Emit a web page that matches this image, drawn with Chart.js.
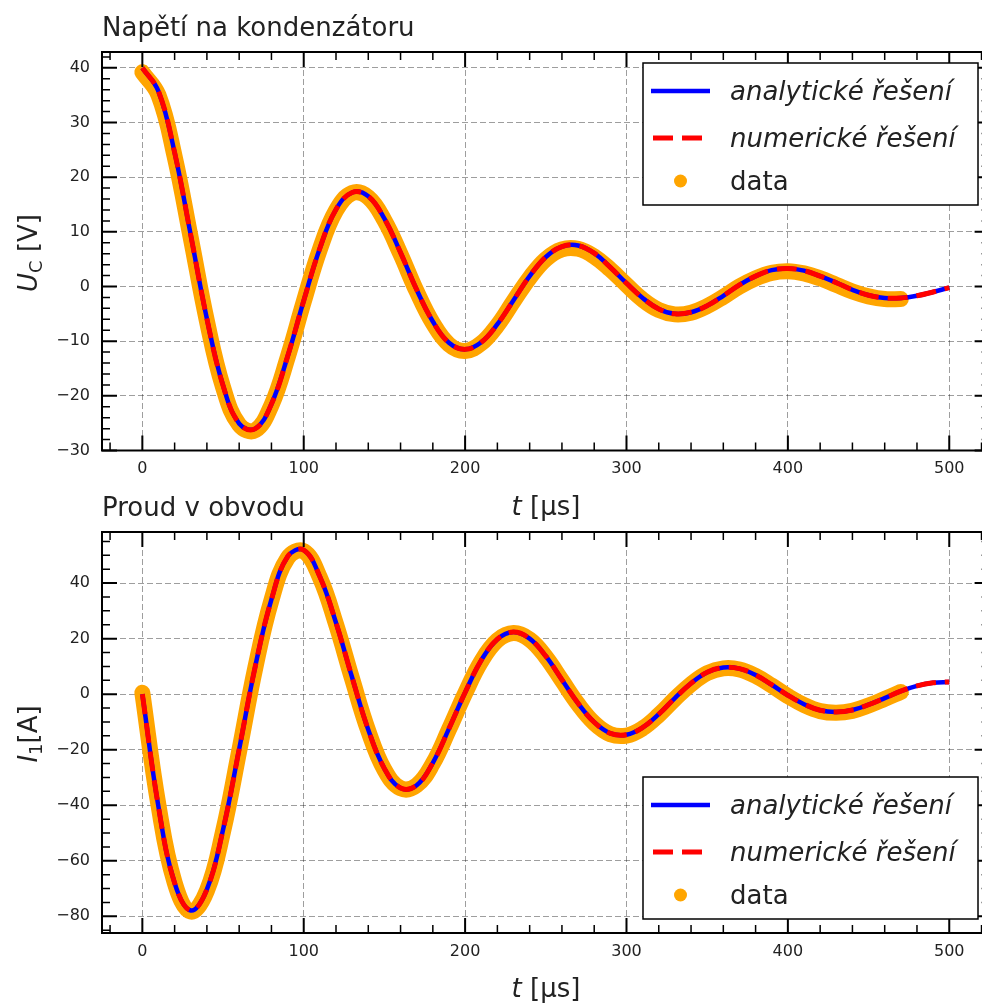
<!DOCTYPE html>
<html><head><meta charset="utf-8">
<script src="https://cdn.jsdelivr.net/npm/chart.js@4.4.1/dist/chart.umd.min.js"></script>
<style>
html,body{margin:0;padding:0;background:#fff;overflow:hidden;width:982px;height:1003px;position:relative;}
#c1{position:absolute;left:0;top:0;}
#c2{position:absolute;left:0;top:480px;}
</style></head><body>
<canvas id="c1" width="992" height="530"></canvas>
<canvas id="c2" width="992" height="523"></canvas>
<script>
// ---- data ----
const tAxis = [0,10,20,30,40,50,60,70,80,90,100,110,120,130,140,150,160,170,180,190,200,210,220,230,240,250,260,270,280,290,300,310,320,330,340,350,360,370,380,390,400,410,420,430,440,450,460,470,480,490,500];
const tData = [0,10,20,30,40,50,60,70,80,90,100,110,120,130,140,150,160,170,180,190,200,210,220,230,240,250,260,270,280,290,300,310,320,330,340,350,360,370,380,390,400,410,420,430,440,450,460,470];

const uAnalytic = [40.0,35.7,24.5,9.4,-5.9,-18.1,-25.1,-26.0,-21.5,-12.8,-2.6,7.0,14.1,17.2,16.5,12.4,6.2,-0.6,-6.4,-10.3,-11.5,-10.2,-6.9,-2.5,1.9,5.4,7.3,7.5,6.1,3.5,0.6,-2.1,-4.1,-5.0,-4.7,-3.5,-1.7,0.3,1.9,3.0,3.3,2.9,1.9,0.7,-0.6,-1.6,-2.1,-2.1,-1.7,-1.0,-0.2];
const uNumeric  = [40.0,35.7,24.5,9.4,-5.9,-18.1,-25.1,-26.0,-21.5,-12.8,-2.6,7.0,14.1,17.2,16.5,12.4,6.2,-0.6,-6.4,-10.3,-11.5,-10.2,-6.9,-2.5,1.9,5.4,7.3,7.5,6.1,3.5,0.6,-2.1,-4.1,-5.0,-4.7,-3.5,-1.7,0.3,1.9,3.0,3.3,2.9,1.9,0.7,-0.6,-1.6,-2.1,-2.1,-1.7,-1.0,-0.2];
const uData     = [39.2,35.0,23.8,8.9,-6.3,-18.4,-25.3,-26.3,-21.7,-13.0,-2.8,6.8,13.9,17.1,16.3,12.1,5.9,-0.9,-6.7,-10.6,-11.8,-10.4,-7.1,-2.7,1.6,5.0,6.8,6.9,5.5,3.1,0.3,-2.4,-4.3,-5.1,-4.8,-3.6,-1.9,0.0,1.5,2.5,2.8,2.4,1.5,0.3,-0.9,-1.8,-2.3,-2.3];

const iAnalytic = [0,-40.6,-68.0,-77.9,-70.3,-48.8,-19.8,10.1,34.1,49.5,51.9,42.3,25.7,6.0,-12.8,-26.8,-33.8,-32.8,-24.7,-12.4,0.6,12.2,19.8,22.4,20.0,13.7,5.2,-3.3,-10.1,-14.1,-14.6,-12.0,-7.2,-1.4,3.9,7.9,9.6,9.2,6.9,3.4,-0.4,-3.6,-5.8,-6.4,-5.7,-3.8,-1.4,1.1,3.0,4.1,4.4];
const iNumeric  = [0,-40.6,-68.0,-77.9,-70.3,-48.8,-19.8,10.1,34.1,49.5,51.9,42.3,25.7,6.0,-12.8,-26.8,-33.8,-32.8,-24.7,-12.4,0.6,12.2,19.8,22.4,20.0,13.7,5.2,-3.3,-10.1,-14.1,-14.6,-12.0,-7.2,-1.4,3.9,7.9,9.6,9.2,6.9,3.4,-0.4,-3.6,-5.8,-6.4,-5.7,-3.8,-1.4,1.1,3.0,4.1,4.4];
const iData     = [0.5,-40.0,-67.8,-78.3,-70.8,-49.5,-20.5,9.5,33.8,49.0,51.5,42.0,25.2,5.5,-13.2,-27.2,-33.9,-32.8,-25.0,-12.7,0.3,11.8,19.4,22.0,19.7,13.4,4.9,-3.6,-10.4,-14.4,-14.9,-12.3,-7.5,-1.7,3.6,7.6,9.3,8.9,6.6,3.1,-0.7,-3.9,-6.1,-6.7,-6.0,-4.1,-1.7,0.8];

const xTicks = [0,100,200,300,400,500];
const uTicks = [-30,-20,-10,0,10,20,30,40];
const iTicks = [-80,-60,-40,-20,0,20,40];

const seriesNames = ['analytické řešení','numerické řešení','data'];

// ---- helpers ----
Chart.defaults.font.family = '"DejaVu Sans", sans-serif';
const TXT = '#222';
function fmt(v){ return v < 0 ? '\u2212' + Math.abs(v) : String(v); }
function pts(xs, ys){ return ys.map((y,i)=>({x:xs[i], y:y})); }

function drawRich(ctx, parts, x, y, rot){
  ctx.save();
  ctx.translate(x, y);
  if (rot) ctx.rotate(rot);
  let total = 0;
  parts.forEach(p => { ctx.font = p.font; p.w = ctx.measureText(p.text).width; total += p.w; });
  let cx = -total/2;
  ctx.textBaseline = 'alphabetic'; ctx.textAlign = 'left'; ctx.fillStyle = TXT;
  parts.forEach(p => { ctx.font = p.font; ctx.fillText(p.text, cx, p.dy); cx += p.w; });
  ctx.restore();
}

const decoPlugin = {
  id: 'deco',
  afterDraw(chart, args, o){
    const ctx = chart.ctx, ca = chart.chartArea;
    const xs = chart.scales.x, ys = chart.scales.y;
    ctx.save();
    ctx.strokeStyle = '#000';
    const ticks = (scale, major, minor, horiz) => {
      for (let k = Math.ceil(scale.min/minor - 1e-9); k*minor <= scale.max + 1e-9; k++){
        const v = k*minor;
        const isMaj = Math.abs(v/major - Math.round(v/major)) < 1e-6;
        const len = isMaj ? 15 : 8;
        ctx.lineWidth = isMaj ? 2 : 1.5;
        const p = scale.getPixelForValue(v);
        ctx.beginPath();
        if (horiz){
          ctx.moveTo(p, ca.bottom); ctx.lineTo(p, ca.bottom - len);
          ctx.moveTo(p, ca.top); ctx.lineTo(p, ca.top + len);
        } else {
          ctx.moveTo(ca.left, p); ctx.lineTo(ca.left + len, p);
          ctx.moveTo(ca.right, p); ctx.lineTo(ca.right - len, p);
        }
        ctx.stroke();
      }
    };
    ticks(xs, o.xMajor, o.xMinor, true);
    ticks(ys, o.yMajor, o.yMinor, false);
    ctx.lineWidth = 2;
    ctx.strokeRect(ca.left, ca.top, ca.right - ca.left, ca.bottom - ca.top);

    // legend
    const L = o.legend;
    ctx.fillStyle = '#fff';
    ctx.fillRect(L.x, L.y, L.w, L.h);
    ctx.lineWidth = 1.5; ctx.strokeStyle = '#000';
    ctx.strokeRect(L.x, L.y, L.w, L.h);
    const ds = chart.data.datasets;
    const rows = [L.y + 28, L.y + 75, L.y + 118];
    ctx.lineCap = 'butt';
    ctx.setLineDash([]);
    ctx.strokeStyle = ds[1].borderColor; ctx.lineWidth = 4.5;
    ctx.beginPath(); ctx.moveTo(L.x + 8, rows[0]); ctx.lineTo(L.x + 67, rows[0]); ctx.stroke();
    ctx.strokeStyle = ds[0].borderColor; ctx.lineWidth = 5;
    ctx.setLineDash(ds[0].borderDash);
    ctx.beginPath(); ctx.moveTo(L.x + 10, rows[1]); ctx.lineTo(L.x + 67, rows[1]); ctx.stroke();
    ctx.setLineDash([]);
    ctx.fillStyle = ds[2].borderColor;
    ctx.beginPath(); ctx.arc(L.x + 37.5, rows[2], 6.5, 0, Math.PI*2); ctx.fill();
    ctx.fillStyle = TXT; ctx.textBaseline = 'alphabetic'; ctx.textAlign = 'left';
    ctx.font = 'oblique 26px "DejaVu Sans"';
    ctx.fillText(ds[1].label, L.x + 87, rows[0] + 9);
    ctx.fillText(ds[0].label, L.x + 87, rows[1] + 9);
    ctx.font = '26px "DejaVu Sans"';
    ctx.fillText(ds[2].label, L.x + 87, rows[2] + 9);

    // title
    ctx.font = '26px "DejaVu Sans"';
    ctx.fillText(o.title.text, o.title.x, o.title.y);
    ctx.restore();

    // axis titles
    drawRich(ctx, o.ylabel, o.ylabelPos.x, o.ylabelPos.y, -Math.PI/2);
    drawRich(ctx, o.xlabel, o.xlabelPos.x, o.xlabelPos.y, 0);
  }
};

function makeDatasets(tA, aVals, nVals, tD, dVals){
  return [
    { label: seriesNames[1], data: pts(tA, nVals), borderColor: '#ff0000', borderWidth: 5,
      borderDash: [20, 9], pointRadius: 0, tension: 0.4, fill: false },
    { label: seriesNames[0], data: pts(tA, aVals), borderColor: '#0000ff', borderWidth: 4.5,
      pointRadius: 0, tension: 0.4, fill: false },
    { label: seriesNames[2], data: pts(tD, dVals), borderColor: '#ffa500', borderWidth: 16,
      borderCapStyle: 'round', borderJoinStyle: 'round', pointRadius: 0, tension: 0.4, fill: false }
  ];
}

function makeScales(yMin, yMax, yTickVals){
  const grid = { color: 'rgba(0,0,0,0.38)', lineWidth: 1, drawTicks: false };
  return {
    x: { type: 'linear', min: -25, max: 525,
      afterBuildTicks: s => { s.ticks = xTicks.map(v => ({value: v})); },
      afterFit: s => { s.height = 30; },
      grid: grid, border: { display: false, dash: [6,3] },
      ticks: { padding: 9, color: TXT, font: { size: 16 }, callback: v => fmt(v), maxRotation: 0 } },
    y: { type: 'linear', min: yMin, max: yMax,
      afterBuildTicks: s => { s.ticks = yTickVals.map(v => ({value: v})); },
      afterFit: s => { s.width = 60; },
      grid: grid, border: { display: false, dash: [6,3] },
      ticks: { padding: 12, color: TXT, font: { size: 16 }, callback: v => fmt(v) } }
  };
}

const F = '26px "DejaVu Sans"', FI = 'oblique 26px "DejaVu Sans"', FS = '18px "DejaVu Sans"';
new Chart(document.getElementById('c1'), {
  type: 'line',
  data: { datasets: makeDatasets(tAxis, uAnalytic, uNumeric, tData, uData) },
  options: {
    responsive: false, animation: false,
    layout: { padding: { left: 42, top: 52, right: 2.4, bottom: 49.5 } },
    scales: makeScales(-30, 42.9, uTicks),
    plugins: {
      legend: { display: false }, tooltip: { enabled: false },
      deco: {
        xMajor: 100, xMinor: 20, yMajor: 10, yMinor: 2,
        legend: { x: 643, y: 63, w: 335, h: 142 },
        title: { text: 'Napětí na kondenzátoru', x: 102, y: 36 },
        ylabel: [ { text: 'U', font: FI, dy: 9 },
                  { text: 'C', font: FS, dy: 14 },
                  { text: ' [V]', font: F, dy: 9 } ],
        ylabelPos: { x: 28, y: 253 },
        xlabel: [ { text: 't', font: FI, dy: 9 },
                  { text: ' [µs]', font: F, dy: 9 } ],
        xlabelPos: { x: 546, y: 506 }
      }
    }
  },
  plugins: [decoPlugin]
});

new Chart(document.getElementById('c2'), {
  type: 'line',
  data: { datasets: makeDatasets(tAxis, iAnalytic, iNumeric, tData, iData) },
  options: {
    responsive: false, animation: false,
    layout: { padding: { left: 42, top: 52, right: 2.4, bottom: 40 } },
    scales: makeScales(-86, 58.4, iTicks),
    plugins: {
      legend: { display: false }, tooltip: { enabled: false },
      deco: {
        xMajor: 100, xMinor: 20, yMajor: 20, yMinor: 5,
        legend: { x: 643, y: 297, w: 335, h: 142 },
        title: { text: 'Proud v obvodu', x: 102, y: 36 },
        ylabel: [ { text: 'I', font: FI, dy: 9 },
                  { text: '1', font: FS, dy: 14 },
                  { text: '[A]', font: F, dy: 9 } ],
        ylabelPos: { x: 28, y: 254 },
        xlabelPos: { x: 546, y: 508 },
        xlabel: [ { text: 't', font: FI, dy: 9 },
                  { text: ' [µs]', font: F, dy: 9 } ]
      }
    }
  },
  plugins: [decoPlugin]
});
</script>
</body></html>
